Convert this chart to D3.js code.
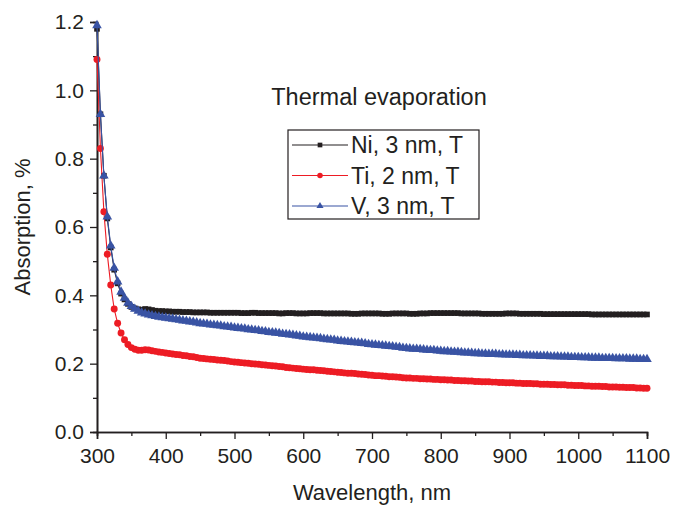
<!DOCTYPE html>
<html>
<head>
<meta charset="utf-8">
<script src="https://cdn.jsdelivr.net/npm/d3@7"></script>
<style>
  body { margin: 0; background: #fff; }
  svg text { font-family: "Liberation Sans", Arial, sans-serif; fill: #231f20; }
</style>
</head>
<body>
<svg id="chart" width="674" height="508"></svg>
<script>
/* measurement grid, nm */
var wavelengths = d3.range(300, 1101, 5);

/* Ni, 3 nm, T */
var niValues = [
  1.18, 0.93, 0.75, 0.625, 0.54, 0.475, 0.435, 0.405, 0.388, 0.375,
  0.366, 0.362, 0.359, 0.358, 0.360, 0.359, 0.357, 0.355, 0.354, 0.354, 0.353,
  0.353, 0.352, 0.352, 0.352, 0.351, 0.351, 0.351, 0.350, 0.350, 0.350,
  0.350, 0.350, 0.349, 0.349, 0.349, 0.349, 0.349, 0.349, 0.349, 0.349,
  0.349, 0.348, 0.348, 0.348, 0.349, 0.349, 0.348, 0.348, 0.348, 0.348,
  0.348, 0.348, 0.347, 0.347, 0.348, 0.348, 0.348, 0.347, 0.347, 0.347,
  0.347, 0.348, 0.348, 0.348, 0.348, 0.347, 0.347, 0.347, 0.347, 0.347,
  0.347, 0.347, 0.347, 0.346, 0.346, 0.346, 0.347, 0.347, 0.347, 0.347,
  0.347, 0.347, 0.346, 0.346, 0.346, 0.347, 0.347, 0.347, 0.347, 0.347,
  0.346, 0.346, 0.346, 0.347, 0.347, 0.347, 0.348, 0.348, 0.348, 0.348,
  0.348, 0.348, 0.348, 0.348, 0.348, 0.347, 0.347, 0.347, 0.347, 0.347,
  0.347, 0.346, 0.346, 0.346, 0.346, 0.346, 0.346, 0.346, 0.347, 0.347,
  0.347, 0.347, 0.346, 0.346, 0.346, 0.346, 0.346, 0.346, 0.346, 0.345,
  0.345, 0.345, 0.345, 0.345, 0.345, 0.345, 0.345, 0.345, 0.345, 0.345,
  0.345, 0.345, 0.345, 0.344, 0.344, 0.344, 0.344, 0.344, 0.344, 0.344,
  0.344, 0.344, 0.344, 0.344, 0.344, 0.344, 0.344, 0.344, 0.344, 0.344
];

/* Ti, 2 nm, T */
var tiValues = [
  1.09, 0.83, 0.645, 0.52, 0.43, 0.36, 0.318, 0.29, 0.27, 0.256,
  0.247, 0.242, 0.239, 0.239, 0.241, 0.240, 0.238, 0.236, 0.234, 0.233, 0.231,
  0.230, 0.228, 0.227, 0.226, 0.224, 0.223, 0.221, 0.220, 0.218, 0.216,
  0.215, 0.214, 0.213, 0.212, 0.211, 0.210, 0.209, 0.208, 0.206, 0.205,
  0.204, 0.203, 0.202, 0.201, 0.200, 0.199, 0.198, 0.197, 0.196, 0.195,
  0.194, 0.193, 0.192, 0.191, 0.189, 0.188, 0.187, 0.186, 0.185, 0.184,
  0.183, 0.182, 0.182, 0.181, 0.180, 0.179, 0.178, 0.177, 0.176, 0.175,
  0.174, 0.173, 0.172, 0.172, 0.171, 0.170, 0.169, 0.168, 0.167, 0.166,
  0.165, 0.165, 0.164, 0.163, 0.162, 0.162, 0.161, 0.160, 0.159, 0.158,
  0.158, 0.157, 0.157, 0.156, 0.156, 0.155, 0.155, 0.154, 0.154, 0.153,
  0.153, 0.152, 0.152, 0.151, 0.151, 0.150, 0.150, 0.149, 0.149, 0.148,
  0.148, 0.147, 0.147, 0.147, 0.146, 0.146, 0.145, 0.145, 0.144, 0.144,
  0.144, 0.143, 0.143, 0.142, 0.142, 0.142, 0.141, 0.141, 0.140, 0.140,
  0.140, 0.139, 0.139, 0.138, 0.138, 0.138, 0.137, 0.137, 0.136, 0.136,
  0.136, 0.135, 0.135, 0.134, 0.134, 0.134, 0.133, 0.133, 0.132, 0.132,
  0.132, 0.131, 0.131, 0.130, 0.130, 0.130, 0.129, 0.129, 0.128, 0.128
];

/* V, 3 nm, T */
var vValues = [
  1.19, 0.93, 0.75, 0.63, 0.545, 0.48, 0.44, 0.41, 0.392, 0.378,
  0.368, 0.360, 0.354, 0.349, 0.346, 0.343, 0.341, 0.339, 0.337, 0.335, 0.334,
  0.332, 0.331, 0.329, 0.328, 0.326, 0.325, 0.323, 0.322, 0.320, 0.318,
  0.317, 0.316, 0.314, 0.313, 0.312, 0.311, 0.309, 0.308, 0.307, 0.305,
  0.304, 0.303, 0.302, 0.300, 0.299, 0.298, 0.297, 0.295, 0.294, 0.292,
  0.291, 0.290, 0.289, 0.287, 0.286, 0.285, 0.284, 0.282, 0.281, 0.279,
  0.278, 0.277, 0.276, 0.275, 0.274, 0.272, 0.271, 0.270, 0.269, 0.267,
  0.266, 0.265, 0.264, 0.263, 0.262, 0.261, 0.260, 0.259, 0.257, 0.256,
  0.255, 0.254, 0.253, 0.252, 0.251, 0.250, 0.249, 0.248, 0.246, 0.245,
  0.244, 0.243, 0.243, 0.242, 0.241, 0.240, 0.239, 0.239, 0.238, 0.237,
  0.236, 0.236, 0.235, 0.234, 0.234, 0.233, 0.232, 0.232, 0.231, 0.230,
  0.230, 0.229, 0.229, 0.228, 0.228, 0.228, 0.227, 0.227, 0.226, 0.226,
  0.226, 0.225, 0.225, 0.224, 0.224, 0.224, 0.223, 0.223, 0.222, 0.222,
  0.222, 0.221, 0.221, 0.221, 0.220, 0.220, 0.220, 0.219, 0.219, 0.219,
  0.218, 0.218, 0.218, 0.217, 0.217, 0.217, 0.216, 0.216, 0.216, 0.216,
  0.215, 0.215, 0.215, 0.215, 0.214, 0.214, 0.214, 0.213, 0.213, 0.213
];

var seriesNames = ["Ni, 3 nm, T", "Ti, 2 nm, T", "V, 3 nm, T"];
var xTicks = [300, 400, 500, 600, 700, 800, 900, 1000, 1100];
var yTicks = [0.0, 0.2, 0.4, 0.6, 0.8, 1.0, 1.2];

var series = [
  { name: seriesNames[0], values: niValues, color: "#231f20", symbol: d3.symbolSquare, size: 32, legendSize: 22 },
  { name: seriesNames[1], values: tiValues, color: "#ed1c24", symbol: d3.symbolCircle, size: 38, legendSize: 24 },
  { name: seriesNames[2], values: vValues, color: "#3953a4", symbol: d3.symbolTriangle, size: 40, legendSize: 22 }
];

var svg = d3.select("#chart"),
    margin = { top: 22, right: 27, bottom: 76, left: 97 },
    width = +svg.attr("width") - margin.left - margin.right,
    height = +svg.attr("height") - margin.top - margin.bottom;

var x = d3.scaleLinear().domain([300, 1100]).range([0, width]);
var y = d3.scaleLinear().domain([0, 1.2]).range([height, 0]);

var g = svg.append("g")
  .attr("transform", "translate(" + margin.left + "," + margin.top + ")");

/* minor ticks first */
g.append("g")
  .attr("class", "minor")
  .attr("transform", "translate(0," + height + ")")
  .call(d3.axisBottom(x).tickValues(d3.range(350, 1100, 100)).tickSize(4).tickFormat(""));
g.append("g")
  .attr("class", "minor")
  .call(d3.axisLeft(y).tickValues([0.1, 0.3, 0.5, 0.7, 0.9, 1.1]).tickSize(4).tickFormat(""));

var xAxis = g.append("g")
  .attr("transform", "translate(0," + height + ")")
  .call(d3.axisBottom(x).tickValues(xTicks).tickSize(7).tickPadding(5).tickFormat(d3.format("d")));
var yAxis = g.append("g")
  .call(d3.axisLeft(y).tickValues(yTicks).tickSize(7).tickPadding(6).tickFormat(d3.format(".1f")));

g.selectAll(".domain").attr("stroke", "#231f20").attr("stroke-width", 1.6);
g.selectAll(".tick line").attr("stroke", "#231f20").attr("stroke-width", 1.3);
xAxis.selectAll("text").style("font-size", "21px").attr("dy", "0.9em");
yAxis.selectAll("text").style("font-size", "21px");

/* curves */
var line = d3.line()
  .x(function(d, i) { return x(wavelengths[i]); })
  .y(function(d) { return y(d); });

series.forEach(function(s) {
  var sg = g.append("g");
  sg.append("path")
    .datum(s.values)
    .attr("fill", "none")
    .attr("stroke", s.color)
    .attr("stroke-width", 1.1)
    .attr("d", line);
  sg.selectAll("path.pt")
    .data(s.values)
    .enter().append("path")
    .attr("class", "pt")
    .attr("d", d3.symbol().type(s.symbol).size(s.size))
    .attr("transform", function(d, i) {
      return "translate(" + x(wavelengths[i]) + "," + y(d) + ")";
    })
    .attr("fill", s.color);
});

/* axis titles */
svg.append("text")
  .attr("x", margin.left + width / 2)
  .attr("y", 500)
  .attr("text-anchor", "middle")
  .style("font-size", "22px")
  .text("Wavelength, nm");

svg.append("text")
  .attr("transform", "translate(30," + (margin.top + height / 2) + ") rotate(-90)")
  .attr("text-anchor", "middle")
  .style("font-size", "22px")
  .text("Absorption, %");

/* annotation */
svg.append("text")
  .attr("x", 379)
  .attr("y", 105)
  .attr("text-anchor", "middle")
  .style("font-size", "23.5px")
  .text("Thermal evaporation");

/* legend */
var legend = svg.append("g").attr("transform", "translate(288,130)");
legend.append("rect")
  .attr("width", 191).attr("height", 89)
  .attr("fill", "#fff").attr("stroke", "#231f20").attr("stroke-width", 1.2);

series.forEach(function(s, i) {
  var row = legend.append("g").attr("transform", "translate(0," + (15 + i * 30.5) + ")");
  row.append("line")
    .attr("x1", 4).attr("x2", 60)
    .attr("stroke", s.color).attr("stroke-width", 1.1);
  row.append("path")
    .attr("d", d3.symbol().type(s.symbol).size(s.legendSize))
    .attr("transform", "translate(32,0)")
    .attr("fill", s.color);
  row.append("text")
    .attr("x", 63)
    .attr("dy", "0.36em")
    .style("font-size", "23px")
    .text(s.name);
});
</script>
</body>
</html>
